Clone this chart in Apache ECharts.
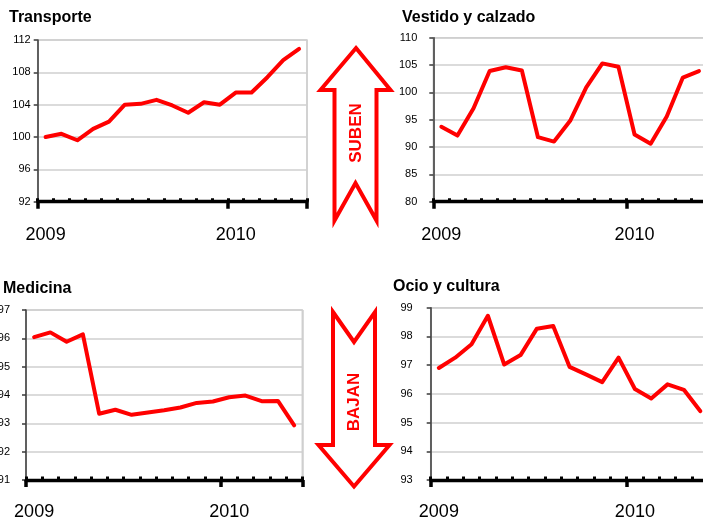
<!DOCTYPE html>
<html>
<head>
<meta charset="utf-8">
<script src="https://cdn.jsdelivr.net/npm/echarts@6/dist/echarts.min.js"></script>
<style>
  html, body { margin: 0; padding: 0; background: #fff; }
  #chart { width: 703px; height: 520px; }
</style>
</head>
<body>
<div id="chart"></div>
<script>
// months Jan 2009 .. May 2010
const months = [
    "2009-01", "2009-02", "2009-03", "2009-04", "2009-05", "2009-06",
    "2009-07", "2009-08", "2009-09", "2009-10", "2009-11", "2009-12",
    "2010-01", "2010-02", "2010-03", "2010-04", "2010-05"
];

const transporte = [100.0, 100.4, 99.6, 101.0, 101.9, 104.0, 104.1, 104.6, 103.9, 103.0, 104.3, 104.0, 105.5, 105.5, 107.4, 109.5, 110.9];
const vestido = [93.7, 92.1, 97.1, 103.9, 104.6, 104.0, 91.8, 91.0, 94.8, 100.9, 105.3, 104.7, 92.3, 90.6, 95.6, 102.7, 103.9];
const medicina = [96.04, 96.21, 95.88, 96.14, 93.34, 93.48, 93.30, 93.38, 93.46, 93.56, 93.72, 93.77, 93.92, 93.98, 93.78, 93.79, 92.93];
const ocio = [96.90, 97.26, 97.73, 98.72, 97.02, 97.35, 98.27, 98.36, 96.94, 96.68, 96.41, 97.26, 96.17, 95.84, 96.33, 96.14, 95.40];

// y scales: [min, max, step]
const transporteTicks = [92, 112, 4];
const vestidoTicks = [80, 110, 5];
const medicinaTicks = [91, 97, 1];
const ocioTicks = [93, 99, 1];

const titles = ["Transporte", "Vestido y calzado", "Medicina", "Ocio y cultura"];

const FONT = "'Liberation Sans', Arial, sans-serif";
const RED = "#ff0000";

const panels = [
    { data: transporte, ticks: transporteTicks, grid: { left: 37.7, top: 40, width: 269.3, height: 161.7 }, title: { left: 9, top: 10 }, yMargin: 7, xMargin: 24 },
    { data: vestido, ticks: vestidoTicks, grid: { left: 433.3, top: 37.7, width: 273.7, height: 164 }, title: { left: 402, top: 10 }, yMargin: 16, xMargin: 24 },
    { data: medicina, ticks: medicinaTicks, grid: { left: 26, top: 310, width: 276.3, height: 170 }, title: { left: 3, top: 281 }, yMargin: 16, xMargin: 23 },
    { data: ocio, ticks: ocioTicks, grid: { left: 430.7, top: 307.7, width: 277.7, height: 172.3 }, title: { left: 393, top: 279 }, yMargin: 18, xMargin: 23 }
];

const isYearStart = (i) => i === 0 || i === 12;

const chart = echarts.init(document.getElementById("chart"), null, { renderer: "canvas" });

const grid = [], xAxis = [], yAxis = [], series = [], title = [];

panels.forEach((p, k) => {
    grid.push(Object.assign({
        show: true,
        borderColor: "#cfcfcf",
        borderWidth: 1.5,
        backgroundColor: "transparent",
        containLabel: false,
        outerBoundsMode: "none"
    }, p.grid));

    title.push({
        text: titles[k],
        left: p.title.left,
        top: p.title.top,
        padding: 0,
        textStyle: { fontFamily: FONT, fontSize: 16, fontWeight: "bold", color: "#000" }
    });

    // main x axis: thick line, small square ticks, year labels
    xAxis.push({
        gridIndex: k,
        type: "category",
        data: months,
        boundaryGap: true,
        axisLine: { lineStyle: { color: "#000", width: 3.3 } },
        axisTick: { show: true, inside: true, length: 3.5, interval: 0, lineStyle: { color: "#000", width: 3 } },
        axisLabel: {
            interval: (i) => isYearStart(i),
            formatter: (v) => v.slice(0, 4),
            margin: p.xMargin,
            fontFamily: FONT,
            fontSize: 18,
            color: "#000"
        },
        splitLine: { show: true, interval: (i) => i === 12, lineStyle: { color: "#cfcfcf", width: 1.5 } }
    });
    // overlay axis for the longer year ticks
    xAxis.push({
        gridIndex: k,
        type: "category",
        data: months,
        boundaryGap: true,
        position: "bottom",
        axisLine: { show: false },
        axisLabel: { show: false },
        splitLine: { show: false },
        axisTick: { show: true, inside: false, length: 7, interval: (i) => isYearStart(i), lineStyle: { color: "#000", width: 3.5 } }
    });

    yAxis.push({
        gridIndex: k,
        type: "value",
        min: p.ticks[0],
        max: p.ticks[1],
        interval: p.ticks[2],
        axisLine: { show: true, lineStyle: { color: "#3a3a3a", width: 1.5 } },
        axisTick: { show: true, length: 4, lineStyle: { color: "#3a3a3a", width: 1.5 } },
        axisLabel: { margin: p.yMargin, fontFamily: FONT, fontSize: 11, color: "#000" },
        splitLine: { lineStyle: { color: "#cfcfcf", width: 1.5 } }
    });

    series.push({
        type: "line",
        xAxisIndex: k * 2,
        yAxisIndex: k,
        data: p.data,
        showSymbol: false,
        symbol: "none",
        lineStyle: { color: RED, width: 4, join: "round", cap: "round" },
        z: 5
    });
});

// decorative up / down arrows between the panels
const upArrow = [
    [356, 48], [390.5, 90], [376.5, 90], [376.5, 220.5], [355.5, 183], [334.5, 220.5], [334.5, 90], [320.5, 90]
];
const downArrow = [
    [333, 312], [354, 342], [375, 312], [375, 445], [389.5, 445], [354, 486.5], [318.5, 445], [333, 445]
];

const option = {
    animation: false,
    textStyle: { fontFamily: FONT },
    title: title,
    grid: grid,
    xAxis: xAxis,
    yAxis: yAxis,
    series: series,
    graphic: [
        { type: "polygon", shape: { points: upArrow }, style: { fill: "#fff", stroke: RED, lineWidth: 4, lineJoin: "miter" }, z: 10 },
        { type: "polygon", shape: { points: downArrow }, style: { fill: "#fff", stroke: RED, lineWidth: 4, lineJoin: "miter" }, z: 10 },
        { type: "text", x: 356, y: 133, rotation: Math.PI / 2, style: { text: "SUBEN", fill: RED, font: "bold 17px " + FONT, textAlign: "center", textVerticalAlign: "middle" }, z: 11 },
        { type: "text", x: 354, y: 402, rotation: Math.PI / 2, style: { text: "BAJAN", fill: RED, font: "bold 17px " + FONT, textAlign: "center", textVerticalAlign: "middle" }, z: 11 }
    ]
};

chart.setOption(option);
window.addEventListener("resize", chart.resize);
</script>
</body>
</html>
